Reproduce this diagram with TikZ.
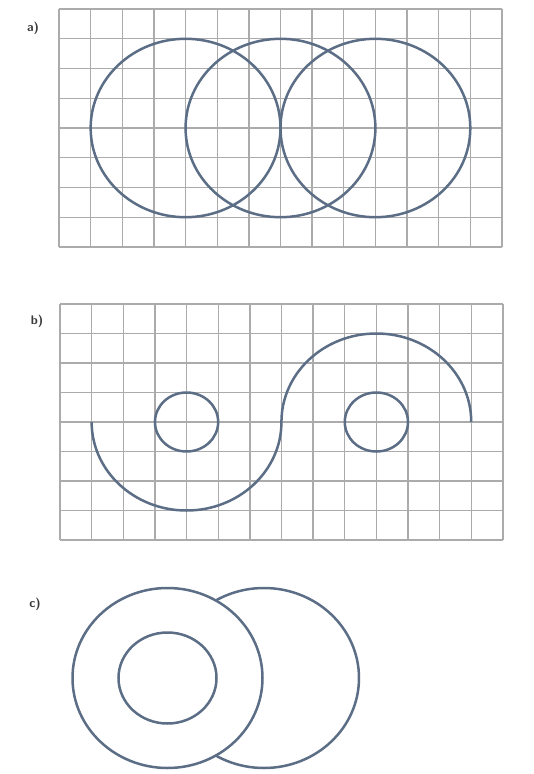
\documentclass[tikz,border=0pt]{standalone}
\begin{document}
\definecolor{gridgrey}{HTML}{ABABAB}
\definecolor{ink}{HTML}{5C6E86}
\definecolor{lbl}{HTML}{3A3A3A}
\tikzset{
  gridline/.style={draw=gridgrey, line width=1.4pt},
  curve/.style={draw=ink, line width=2.5pt},
  lab/.style={text=lbl, font=\sffamily\bfseries\fontsize{12.5}{14}\selectfont, inner sep=0pt}
}
\begin{tikzpicture}[x=1pt,y=-1pt]
\useasboundingbox (0,0) rectangle (533,774);
\fill[white] (0,0) rectangle (533,774);
% ---------- a) ----------
\node[lab] (la) at (33,28) {a)};
\begin{scope}[shift={(59,9)}, x=31.64pt, y=-29.75pt]
  \foreach \i in {0,...,14} \draw[gridline] (\i,0) -- (\i,8);
  \foreach \j in {0,...,8} \draw[gridline] (0,\j) -- (14,\j);
  \coordinate (ca1) at (4,4);
  \coordinate (ca2) at (7,4);
  \coordinate (ca3) at (10,4);
\end{scope}
\draw[curve] (ca1) ellipse [x radius=94.9pt, y radius=89.2pt];
\draw[curve] (ca2) ellipse [x radius=94.9pt, y radius=89.2pt];
\draw[curve] (ca3) ellipse [x radius=94.9pt, y radius=89.2pt];
% ---------- b) ----------
\node[lab] (lb) at (37,321) {b)};
\begin{scope}[shift={(60,304)}, x=31.64pt, y=-29.5pt]
  \foreach \i in {0,...,14} \draw[gridline] (\i,0) -- (\i,8);
  \foreach \j in {0,...,8} \draw[gridline] (0,\j) -- (14,\j);
  \coordinate (cb1) at (4,4);
  \coordinate (cb2) at (10,4);
  \coordinate (sb) at (1,4);
\end{scope}
\draw[curve] (cb1) ellipse [x radius=31.6pt, y radius=29.5pt];
\draw[curve] (cb2) ellipse [x radius=31.6pt, y radius=29.5pt];
\draw[curve] (sb) arc [start angle=180, end angle=360, x radius=94.9pt, y radius=88.5pt]
  arc [start angle=180, end angle=0, x radius=94.9pt, y radius=88.5pt];
% ---------- c) ----------
\node[lab] (lc) at (35,604) {c)};
\coordinate (cc1) at (167.5,678);
\coordinate (cc2) at (264,678);
\draw[curve] (cc2) ellipse [x radius=95pt, y radius=90pt];
\filldraw[curve, fill=white] (cc1) ellipse [x radius=95pt, y radius=90pt];
\draw[curve] (cc1) ellipse [x radius=49pt, y radius=45.5pt];
\end{tikzpicture}
\end{document}
